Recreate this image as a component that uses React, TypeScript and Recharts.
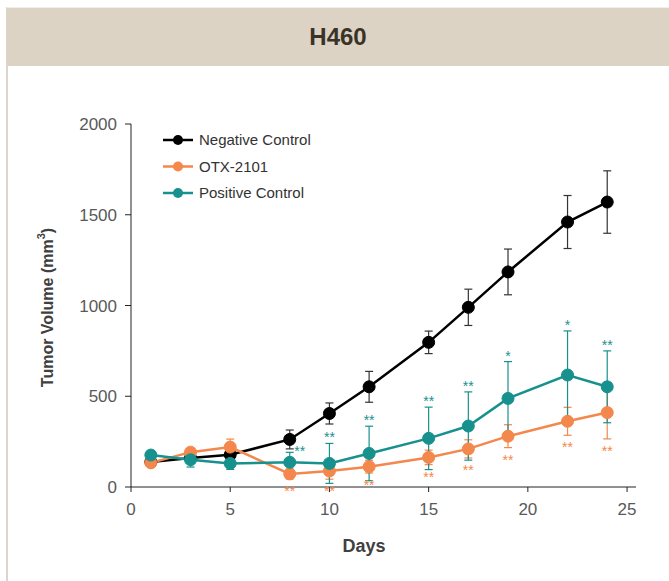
import React from "react";
import { ComposedChart, Line, Scatter, XAxis, YAxis, ErrorBar } from "recharts";

// study days
const days = [1, 3, 5, 8, 10, 12, 15, 17, 19, 22, 24];

// tumor volume means (mm3) and SEM
const negativeMean = [138, 160, 178, 262, 405, 552, 797, 990, 1185, 1460, 1570];
const negativeErr = [15, 20, 20, 52, 58, 85, 62, 100, 126, 146, 172];
const otxMean = [133, 192, 220, 72, 88, 112, 163, 210, 280, 362, 410];
const otxErr = [15, 20, 44, 28, 45, 35, 40, 50, 63, 77, 145];
const positiveMean = [176, 150, 130, 136, 130, 185, 268, 336, 488, 617, 552];
const positiveErr = [22, 40, 33, 55, 110, 150, 172, 188, 203, 243, 198];

// significance marks
const positiveSig = ["", "", "", "**", "**", "**", "**", "**", "*", "*", "**"];
const otxSig = ["", "", "", "**", "**", "**", "**", "**", "**", "**", "**"];

const seriesNames = ["Negative Control", "OTX-2101", "Positive Control"];
const yTicks = [0, 500, 1000, 1500, 2000];
const xTicks = [0, 5, 10, 15, 20, 25];

const NEG = "#000000";
const OTX = "#f4874b";
const POS = "#17918e";
const FONT = "'Liberation Sans', Arial, sans-serif";

const rows = days.map((d, i) => ({
  day: d,
  neg: negativeMean[i],
  negErr: negativeErr[i],
  otx: otxMean[i],
  otxErr: otxErr[i],
  pos: positiveMean[i],
  posErr: positiveErr[i],
}));

const posSigPoints = days
  .map((d, i) => ({ day: d, y: positiveMean[i] + positiveErr[i], sig: positiveSig[i] }))
  .filter((p) => p.sig);
const otxSigPoints = days
  .map((d, i) => ({ day: d, y: otxMean[i] - otxErr[i], sig: otxSig[i] }))
  .filter((p) => p.sig);

const SigAbove = (props: any) => {
  const { cx, cy, payload } = props;
  // day 8 mark sits off to the right, clear of the black marker
  const shift = payload.day === 8 ? { dx: 10, dy: 5 } : { dx: 0, dy: 0 };
  return (
    <text x={cx + shift.dx} y={cy - 1 + shift.dy} textAnchor="middle" fill={POS} fontSize={14} fontFamily={FONT}>
      {payload.sig}
    </text>
  );
};

const SigBelow = (props: any) => {
  const { cx, cy, payload } = props;
  return (
    <text x={cx} y={cy + 17} textAnchor="middle" fill={OTX} fontSize={14} fontFamily={FONT}>
      {payload.sig}
    </text>
  );
};

const LegendBox = () => {
  const colors = [NEG, OTX, POS];
  return (
    <svg width={200} height={80}>
      {seriesNames.map((name, i) => {
        const y = 12 + i * 26.5;
        return (
          <g key={name}>
            <line x1={3} x2={33} y1={y} y2={y} stroke={colors[i]} strokeWidth={2.5} />
            <circle cx={18} cy={y} r={5} fill={colors[i]} />
            <text x={39} y={y + 5} fontSize={15} fill="#333" fontFamily={FONT}>
              {name}
            </text>
          </g>
        );
      })}
    </svg>
  );
};

const YLabel = (props: any) => {
  const { viewBox } = props;
  const cy = viewBox.y + viewBox.height / 2 + 2;
  const cx = 47;
  return (
    <text
      x={cx}
      y={cy}
      transform={`rotate(-90, ${cx}, ${cy})`}
      textAnchor="middle"
      dominantBaseline="central"
      fontSize={16}
      fontWeight="bold"
      fill="#404040"
      fontFamily={FONT}
    >
      Tumor Volume (mm<tspan dy={-6} fontSize={11}>3</tspan>
      <tspan dy={6}>)</tspan>
    </text>
  );
};

const XLabel = (props: any) => {
  const { viewBox } = props;
  return (
    <text
      x={viewBox.x + 233}
      y={viewBox.y + 65}
      textAnchor="middle"
      fontSize={18}
      fontWeight="bold"
      fill="#404040"
      fontFamily={FONT}
    >
      Days
    </text>
  );
};

export default function App() {
  return (
    <div style={{ position: "fixed", left: 0, top: 0, width: 669, height: 581, background: "#fff", overflow: "hidden" }}>
      <div style={{ position: "absolute", left: 6, top: 7, width: 2, height: 574, background: "#dcd5c9" }} />
      <div
        style={{
          position: "absolute",
          left: 7,
          top: 7,
          width: 662,
          height: 58,
          background: "#dcd3c5",
          borderTop: "1px solid #f3efe6",
          display: "flex",
          alignItems: "center",
          justifyContent: "center",
          fontFamily: FONT,
          fontWeight: "bold",
          fontSize: 24,
          color: "#3b3327",
        }}
      >
        H460
      </div>
      <div style={{ position: "absolute", left: 0, top: 0 }}>
        <ComposedChart width={669} height={581} data={rows} margin={{ top: 124, right: 33, left: 61, bottom: 34 }}>
          <XAxis
            dataKey="day"
            type="number"
            domain={[0, 25.45]}
            ticks={xTicks}
            allowDataOverflow
            stroke="#222"
            tickSize={5}
            tickMargin={11}
            height={60}
            tick={{ fill: "#595959", fontSize: 17, fontFamily: FONT }}
            label={{ content: XLabel }}
          />
          <YAxis
            domain={[0, 2000]}
            ticks={yTicks}
            width={70}
            stroke="#222"
            tickSize={6}
            tickMargin={8}
            tick={{ fill: "#595959", fontSize: 17, fontFamily: FONT }}
            label={{ content: YLabel }}
          />
          <Line
            dataKey="neg"
            name={seriesNames[0]}
            stroke={NEG}
            strokeWidth={2.5}
            dot={{ r: 6, fill: NEG, stroke: NEG, strokeWidth: 1 }}
            isAnimationActive={false}
          >
            <ErrorBar dataKey="negErr" width={4} strokeWidth={1.2} stroke="#333" direction="y" />
          </Line>
          <Line
            dataKey="otx"
            name={seriesNames[1]}
            stroke={OTX}
            strokeWidth={2.5}
            dot={{ r: 6, fill: OTX, stroke: OTX, strokeWidth: 1 }}
            isAnimationActive={false}
          >
            <ErrorBar dataKey="otxErr" width={4} strokeWidth={1.2} stroke={OTX} direction="y" />
          </Line>
          <Line
            dataKey="pos"
            name={seriesNames[2]}
            stroke={POS}
            strokeWidth={2.5}
            dot={{ r: 6, fill: POS, stroke: POS, strokeWidth: 1 }}
            isAnimationActive={false}
          >
            <ErrorBar dataKey="posErr" width={4} strokeWidth={1.2} stroke={POS} direction="y" />
          </Line>
          <Scatter data={posSigPoints} dataKey="y" shape={SigAbove} legendType="none" isAnimationActive={false} />
          <Scatter data={otxSigPoints} dataKey="y" shape={SigBelow} legendType="none" isAnimationActive={false} />
        </ComposedChart>
      </div>
      <div style={{ position: "absolute", left: 160, top: 128 }}>
        <LegendBox />
      </div>
    </div>
  );
}
